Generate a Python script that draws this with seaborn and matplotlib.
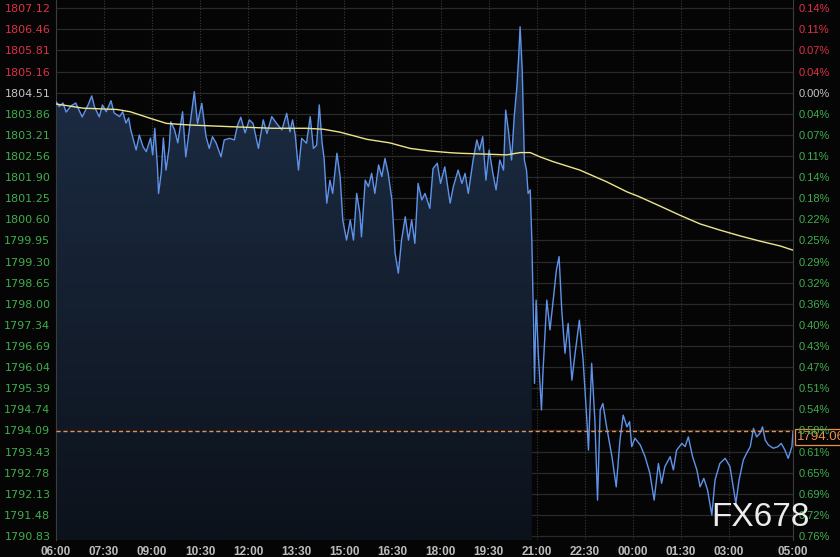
import numpy as np
import pandas as pd
import matplotlib
matplotlib.use("Agg")
import matplotlib.pyplot as plt
import matplotlib.transforms as mtransforms
from matplotlib.colors import to_rgb
import seaborn as sns

# ---------------- data ----------------
# minutes after 06:00
times = [0, 6, 13, 19, 28, 37, 49, 60, 67, 72, 81, 87, 94, 103, 109, 119, 125, 131, 136, 140,
         150, 156, 163, 169, 177, 181, 185, 190, 192, 197, 201, 206, 212, 215, 222, 228, 237, 243, 250, 259,
         265, 273, 281, 287, 293, 300, 309, 315, 325, 334, 340, 346, 354, 362, 369, 379, 388, 395, 404, 413,
         423, 432, 438, 443, 448, 454, 460, 469, 476, 482, 488, 493, 498, 502, 507, 513, 518, 526, 532, 537,
         544, 551, 557, 563, 569, 572, 579, 585, 591, 597, 604, 610, 616, 622, 629, 635, 641, 647, 654, 660,
         666, 672, 678, 685, 691, 700, 706, 714, 720, 728, 738, 744, 753, 760, 766, 772, 781, 788, 793, 799,
         805, 811, 818, 824, 831, 838, 842, 847, 853, 858, 863, 866, 869, 873, 877, 881, 884, 888, 891, 894,
         896, 899, 903, 909, 912, 919, 925, 931, 937, 942, 947, 953, 959, 966, 972, 980, 987, 994, 997, 1003,
         1009, 1014, 1019, 1024, 1031, 1041, 1049, 1056, 1062, 1069, 1074, 1078, 1084, 1094, 1103, 1112, 1120, 1128, 1134, 1140,
         1150, 1156, 1162, 1172, 1178, 1184, 1192, 1200, 1206, 1213, 1220, 1228, 1234, 1243, 1253, 1262, 1268, 1273, 1279, 1287,
         1293, 1300, 1306, 1312, 1318, 1323, 1328, 1334, 1343, 1352, 1358, 1365, 1371, 1378, 1380]
prices = [1804.23, 1804.08, 1804.19, 1803.91, 1804.10, 1804.19, 1803.76, 1804.13, 1804.41, 1804.08, 1803.76, 1804.13, 1803.92, 1804.26, 1803.88, 1803.77, 1803.92, 1803.57, 1803.73, 1803.36,
          1802.74, 1803.20, 1802.84, 1802.69, 1803.11, 1802.59, 1803.41, 1802.22, 1801.40, 1802.03, 1803.11, 1802.12, 1802.84, 1803.61, 1803.36, 1802.96, 1803.92, 1802.53, 1803.41, 1804.54,
          1803.56, 1804.18, 1803.15, 1802.79, 1803.15, 1802.95, 1802.53, 1803.05, 1803.10, 1803.05, 1803.51, 1803.75, 1803.27, 1803.67, 1803.56, 1802.79, 1803.67, 1803.25, 1803.77, 1803.56,
          1803.36, 1803.87, 1803.30, 1803.67, 1803.20, 1802.12, 1803.10, 1802.95, 1803.77, 1802.79, 1802.89, 1804.13, 1803.00, 1802.48, 1801.10, 1801.81, 1801.40, 1802.64, 1801.92, 1800.58,
          1799.96, 1800.58, 1799.96, 1801.40, 1800.79, 1800.06, 1801.81, 1801.61, 1802.02, 1801.40, 1802.28, 1801.92, 1802.48, 1802.02, 1801.20, 1799.55, 1798.94, 1799.96, 1800.68, 1799.96,
          1800.58, 1799.86, 1801.71, 1801.20, 1801.40, 1800.94, 1802.17, 1802.33, 1801.71, 1802.22, 1801.10, 1801.61, 1802.12, 1801.71, 1802.02, 1801.40, 1802.43, 1803.05, 1802.74, 1803.15,
          1801.81, 1802.74, 1802.02, 1801.51, 1802.43, 1802.12, 1803.97, 1803.36, 1802.43, 1803.77, 1804.69, 1805.52, 1806.54, 1805.21, 1802.43, 1802.12, 1801.40, 1801.51, 1799.96, 1797.49,
          1795.54, 1798.11, 1796.47, 1794.72, 1795.95, 1798.11, 1797.19, 1798.11, 1799.04, 1799.45, 1797.80, 1796.47, 1797.39, 1795.64, 1796.47, 1797.49, 1796.26, 1794.41, 1793.48, 1796.16,
          1794.41, 1791.94, 1794.72, 1794.92, 1794.20, 1793.28, 1792.35, 1793.79, 1794.56, 1794.20, 1794.36, 1793.59, 1793.85, 1793.64, 1793.28, 1792.77, 1791.94, 1793.07, 1792.46, 1792.97,
          1793.28, 1792.87, 1793.48, 1793.69, 1793.59, 1793.89, 1793.28, 1792.87, 1792.35, 1792.61, 1792.25, 1791.48, 1792.56, 1793.07, 1793.23, 1792.97, 1792.35, 1791.84, 1792.56, 1793.18,
          1793.38, 1793.59, 1794.15, 1793.89, 1794.00, 1794.20, 1793.79, 1793.64, 1793.54, 1793.59, 1793.69, 1793.48, 1793.23, 1793.59, 1794.06]

ma_times = [0, 51, 114, 139, 176, 207, 251, 326, 406, 469, 501, 532, 582, 625, 663, 700, 736, 756,
            844, 869, 888, 906, 931, 981, 1031, 1069, 1092, 1131, 1168, 1206, 1243, 1281, 1318, 1356, 1380]
ma_prices = [1804.16, 1804.03, 1803.99, 1803.92, 1803.72, 1803.56, 1803.51, 1803.46, 1803.41, 1803.41, 1803.38, 1803.29,
             1803.07, 1802.96, 1802.79, 1802.71, 1802.66, 1802.64, 1802.59, 1802.66, 1802.66, 1802.53, 1802.38, 1802.12,
             1801.76, 1801.45, 1801.30, 1801.01, 1800.73, 1800.46, 1800.27, 1800.09, 1799.93, 1799.78, 1799.65]

ytick_values = [1807.12, 1806.46, 1805.81, 1805.16, 1804.51, 1803.86, 1803.21, 1802.56, 1801.90, 1801.25,
                1800.60, 1799.95, 1799.30, 1798.65, 1798.00, 1797.34, 1796.69, 1796.04, 1795.39, 1794.74,
                1794.09, 1793.43, 1792.78, 1792.13, 1791.48, 1790.83]
pct_labels = ["0.14%", "0.11%", "0.07%", "0.04%", "0.00%", "0.04%", "0.07%", "0.11%", "0.14%", "0.18%",
              "0.22%", "0.25%", "0.29%", "0.32%", "0.36%", "0.40%", "0.43%", "0.47%", "0.51%", "0.54%",
              "0.58%", "0.61%", "0.65%", "0.69%", "0.72%", "0.76%"]
xtick_minutes = [0, 90, 180, 270, 360, 450, 540, 630, 720, 810, 900, 990, 1080, 1170, 1260, 1380]
xtick_labels = ["06:00", "07:30", "09:00", "10:30", "12:00", "13:30", "15:00", "16:30", "18:00", "19:30",
                "21:00", "22:30", "00:00", "01:30", "03:00", "05:00"]
prev_close = 1804.51
last_price = 1794.06
fill_end = 891

# ---------------- style ----------------
BG = "#050505"
RED = "#dc3148"
GREEN = "#3fae4c"
GREY = "#c4c4c4"
BLUE = "#5f93ea"
YELLOW = "#ece58c"
ORANGE = "#ec8f4a"

df = pd.DataFrame({"t": times, "p": prices})
ma_df = pd.DataFrame({"t": ma_times, "p": ma_prices})

fig = plt.figure(figsize=(8.4, 5.57), dpi=100, facecolor=BG)
ax = fig.add_axes([56 / 840, 17 / 557, 737 / 840, 540 / 557])
ax.set_facecolor(BG)
ymin, ymax = 1790.71, 1807.367
ax.set_xlim(0, 1380)
ax.set_ylim(ymin, ymax)

# gradient fill under the price line (only until ~20:51)
fd = df[df["t"] <= fill_end]
poly = ax.fill_between(fd["t"], fd["p"], ymin, color="none", lw=0)
top_c = np.array(to_rgb("#1e2f48"))
bot_c = np.array(to_rgb("#0c121b"))
grad = np.linspace(0, 1, 256)[:, None]
img = (top_c[None, None, :] * (1 - grad[:, :, None]) + bot_c[None, None, :] * grad[:, :, None])
im = ax.imshow(img, extent=[0, fill_end, ymin, max(prices)], aspect="auto", origin="upper", zorder=1)
im.set_clip_path(poly.get_paths()[0], transform=ax.transData)
ax.set_xlim(0, 1380)
ax.set_ylim(ymin, ymax)

sns.lineplot(data=df, x="t", y="p", ax=ax, color=BLUE, lw=1.0, zorder=4)
sns.lineplot(data=ma_df, x="t", y="p", ax=ax, color=YELLOW, lw=1.0, zorder=5)
ax.set_xlabel("")
ax.set_ylabel("")

# grid
ax.set_yticks(ytick_values)
ax.set_xticks(xtick_minutes)
ax.grid(axis="y", color="#2a2a2a", lw=0.9, zorder=0)
ax.grid(axis="x", color="#3a3a3a", lw=0.8, ls=(0, (1, 1.5)), zorder=0)
ax.set_axisbelow(True)

ax.set_yticklabels([f"{v:.2f}" for v in ytick_values])
ax.set_xticklabels(xtick_labels)
ax.tick_params(axis="y", length=0, pad=4, labelsize=8)
ax.tick_params(axis="x", length=0, pad=4, labelsize=8.5, labelcolor="#bdbdbd")
for lab in ax.get_xticklabels():
    lab.set_fontfamily("Liberation Sans")
    lab.set_fontweight("bold")


def lab_color(v):
    if abs(v - prev_close) < 1e-6:
        return GREY
    return RED if v > prev_close else GREEN


for lab, v in zip(ax.get_yticklabels(), ytick_values):
    lab.set_color(lab_color(v))
    lab.set_fontfamily("DejaVu Sans")

for s in ["top", "bottom"]:
    ax.spines[s].set_visible(False)
for s in ["left", "right"]:
    ax.spines[s].set_color("#3c3c3c")
    ax.spines[s].set_linewidth(0.8)

ax2 = ax.twinx()
ax2.set_ylim(ymin, ymax)
ax2.set_yticks(ytick_values)
ax2.set_yticklabels(pct_labels)
ax2.tick_params(axis="y", length=0, pad=4, labelsize=8)
for lab, v in zip(ax2.get_yticklabels(), ytick_values):
    lab.set_color(lab_color(v))
    lab.set_fontfamily("Liberation Sans")
for s in ax2.spines.values():
    s.set_visible(False)

# last price line and tag
ax.axhline(last_price, color=ORANGE, lw=1.0, ls=(0, (3, 2)), zorder=6)
trans = mtransforms.blended_transform_factory(ax.transAxes, ax.transData)
ax.text(1.006, last_price, f"{last_price:.2f}", transform=trans, ha="left", va="top",
        color=ORANGE, fontsize=9.5, family="Liberation Sans", zorder=10, clip_on=False,
        bbox=dict(boxstyle="square,pad=0.15", fc="#050505", ec=ORANGE, lw=0.9))

# watermark
fig.text(711 / 840, 24 / 557, "FX678", color="#ececec", fontsize=24, family="Liberation Sans",
         ha="left", va="bottom", zorder=20)

fig.savefig("out.png", dpi=100, facecolor=fig.get_facecolor())
